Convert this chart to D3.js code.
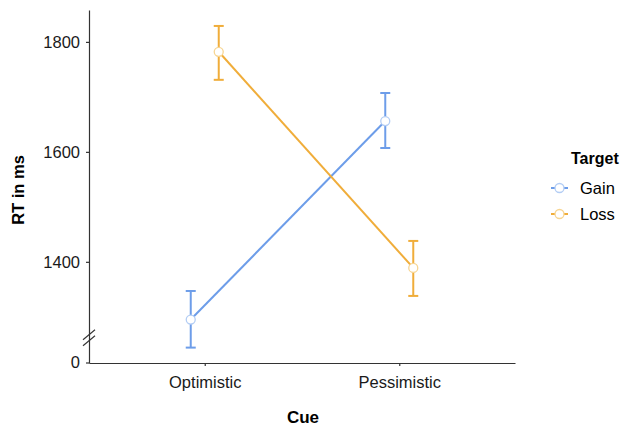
<!DOCTYPE html>
<html>
<head>
<meta charset="utf-8">
<script src="https://cdn.jsdelivr.net/npm/d3@7"></script>
<style>
	body { margin: 0; background: #fff; }
	text { font-family: "Liberation Sans", Arial, sans-serif; }
</style>
</head>
<body>
<div class="chart"></div>
<script>
// data
const cues = ['Optimistic', 'Pessimistic'];
const targets = ['Gain', 'Loss'];
const gainMean = [1295, 1656];
const gainLow = [1244, 1607];
const gainHigh = [1347, 1707];
const lossMean = [1782, 1389];
const lossLow = [1731, 1338];
const lossHigh = [1829, 1438];
const yTicks = [1400, 1600, 1800];

const colors = { Gain: '#6d9de9', Loss: '#f0ad3a' };
const pale = { Gain: '#b3cdf4', Loss: '#f7d592' };

const outerW = 624,
	outerH = 430,
	margin = { left: 89, right: 109, top: 10, bottom: 67 };
const w = outerW - margin.left - margin.right,
	h = outerH - margin.top - margin.bottom;

const series = targets.map((t, i) => ({
	key: t,
	values: cues.map((c, j) => ({
		cue: c,
		mean: i === 0 ? gainMean[j] : lossMean[j],
		lo: i === 0 ? gainLow[j] : lossLow[j],
		hi: i === 0 ? gainHigh[j] : lossHigh[j]
	}))
}));

const svg = d3.select('.chart').append('svg')
	.attr('width', outerW)
	.attr('height', outerH);

const g = svg.append('g')
	.attr('transform', `translate(${margin.left}, ${margin.top})`);

const x = d3.scalePoint().domain(cues).range([0, w]).padding(0.595);
const dodge = d3.scalePoint().domain(targets).range([-14, 14]);
const y = d3.scaleLinear().domain([1216, 1858]).range([h, 0]);

// y axis
const yAxis = g.append('g')
	.attr('class', 'y axis')
	.call(d3.axisLeft(y).tickValues(yTicks).tickFormat(d3.format('d'))
		.tickSize(3).tickPadding(6).tickSizeOuter(0));
// bottom "0" label where axis is broken
yAxis.append('g')
	.attr('class', 'tick')
	.attr('transform', `translate(0, ${h})`)
	.call(s => {
		s.append('line').attr('x2', -3);
		s.append('text').attr('x', -9).attr('dy', '0.32em').attr('text-anchor', 'end').text('0');
	});

// x axis
const xAxis = g.append('g')
	.attr('class', 'x axis')
	.attr('transform', `translate(0, ${h})`)
	.call(d3.axisBottom(x).tickSize(3).tickPadding(8).tickSizeOuter(0));

g.selectAll('.axis path, .axis line').attr('stroke', '#333').attr('stroke-width', 1.2);
g.selectAll('.axis text').attr('font-size', 16.5).attr('fill', '#1a1a1a');
g.selectAll('.x.axis text').attr('dy', '0.85em');

// axis break marks
const yb = y(1262);
[-3, 3].forEach(off => {
	g.append('line')
		.attr('x1', -6).attr('y1', yb + off + 5)
		.attr('x2', 6).attr('y2', yb + off - 5)
		.attr('stroke', '#333').attr('stroke-width', 1.1);
});

// labels
svg.append('text')
	.attr('transform', 'translate(24, 190) rotate(-90)')
	.attr('text-anchor', 'middle')
	.attr('font-weight', 'bold')
	.attr('font-size', 16.5)
	.text('RT in ms');

svg.append('text')
	.attr('x', margin.left + w / 2 + 1)
	.attr('y', 423)
	.attr('text-anchor', 'middle')
	.attr('font-weight', 'bold')
	.attr('font-size', 17)
	.text('Cue');

const px = (d, s) => x(d.cue) + dodge(s.key);

const sg = g.selectAll('.series')
	.data(series)
	.enter().append('g')
	.attr('class', 'series');

// lines
sg.append('path')
	.attr('fill', 'none')
	.attr('stroke', s => colors[s.key])
	.attr('stroke-width', 2)
	.attr('d', s => d3.line().x(d => px(d, s)).y(d => y(d.mean))(s.values));

// error bars
sg.each(function(s) {
	const eb = d3.select(this).selectAll('.err')
		.data(s.values)
		.enter().append('g')
		.attr('class', 'err')
		.attr('stroke', colors[s.key])
		.attr('stroke-width', 2);
	eb.append('line')
		.attr('x1', d => px(d, s)).attr('x2', d => px(d, s))
		.attr('y1', d => y(d.lo)).attr('y2', d => y(d.hi));
	eb.append('line')
		.attr('x1', d => px(d, s) - 5).attr('x2', d => px(d, s) + 5)
		.attr('y1', d => y(d.lo)).attr('y2', d => y(d.lo));
	eb.append('line')
		.attr('x1', d => px(d, s) - 5).attr('x2', d => px(d, s) + 5)
		.attr('y1', d => y(d.hi)).attr('y2', d => y(d.hi));
});

// points
sg.each(function(s) {
	d3.select(this).selectAll('.pt')
		.data(s.values)
		.enter().append('circle')
		.attr('class', 'pt')
		.attr('cx', d => px(d, s))
		.attr('cy', d => y(d.mean))
		.attr('r', 4.5)
		.attr('fill', '#fff')
		.attr('stroke', pale[s.key])
		.attr('stroke-width', 1.3);
});

// legend
const legend = svg.append('g')
	.attr('transform', 'translate(551, 0)');

legend.append('text')
	.attr('x', 20)
	.attr('y', 164)
	.attr('font-weight', 'bold')
	.attr('font-size', 16)
	.text('Target');

const li = legend.selectAll('.item')
	.data(targets)
	.enter().append('g')
	.attr('class', 'item')
	.attr('transform', (d, i) => `translate(0, ${188 + i * 26})`);

li.append('line')
	.attr('x1', 0).attr('x2', 17)
	.attr('stroke', d => colors[d])
	.attr('stroke-width', 2);
li.append('circle')
	.attr('cx', 8.5)
	.attr('r', 4.5)
	.attr('fill', '#fff')
	.attr('stroke', d => pale[d])
	.attr('stroke-width', 1.3);
li.append('text')
	.attr('x', 29)
	.attr('dy', '0.35em')
	.attr('font-size', 16.5)
	.text(d => d);
</script>
</body>
</html>
